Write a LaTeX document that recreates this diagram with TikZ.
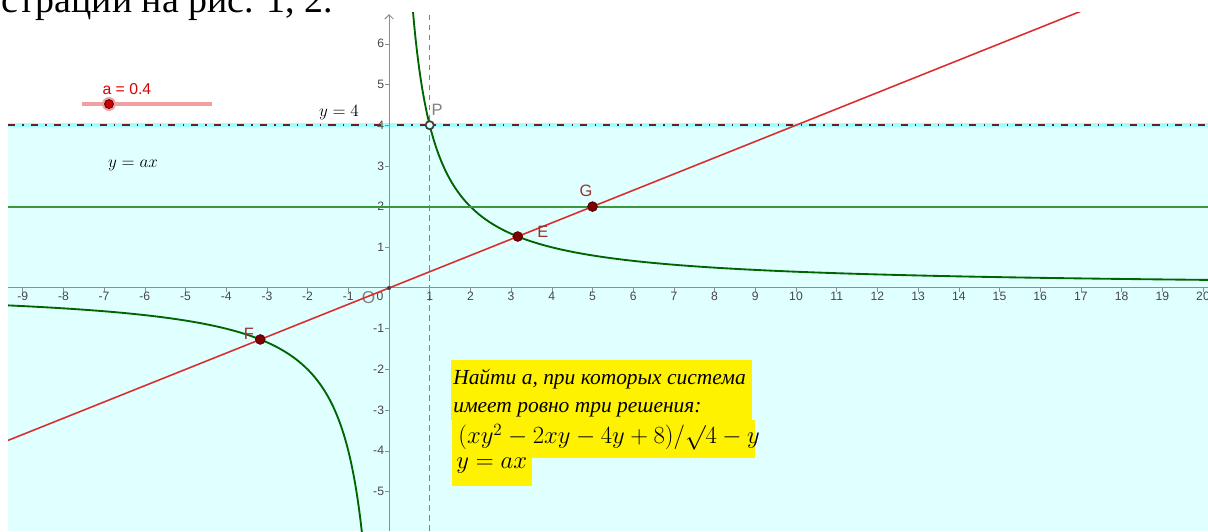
\documentclass[tikz,border=0pt]{standalone}
\usepackage{fontspec}
\setmainfont{Liberation Serif}
\setsansfont{Liberation Sans}
\usepackage{amsmath}
\usetikzlibrary{arrows.meta}

\definecolor{ggbcyan}{RGB}{224,255,255}
\definecolor{ggbband}{RGB}{160,255,255}
\definecolor{ggbdash}{RGB}{110,30,30}
\definecolor{ggbgreen}{RGB}{0,100,0}
\definecolor{ggbline}{RGB}{60,150,60}
\definecolor{ggbred}{RGB}{220,40,40}
\definecolor{ggbdot}{RGB}{128,0,0}
\definecolor{ggblabel}{RGB}{153,51,51}
\definecolor{ggbslider}{RGB}{240,160,160}
\definecolor{ggbaxis}{RGB}{135,145,145}
\definecolor{ggbtick}{RGB}{70,70,70}

\tikzset{
  ptdot/.style={circle,fill=ggbdot,draw=ggbdot!60!black,line width=0.5pt,inner sep=0pt,minimum size=0.24cm},
  ptlabel/.style={font=\sffamily\fontsize{11.5}{12}\selectfont,text=ggblabel,inner sep=0pt},
  ticklabel/.style={font=\sffamily\fontsize{8.5}{9}\selectfont,text=ggbtick,inner sep=1pt},
  yellowtext/.style={font=\fontsize{15}{18}\selectfont\itshape,anchor=base west,inner sep=0pt},
  yellowmath/.style={font=\fontsize{16.5}{18}\selectfont,anchor=base west,inner sep=0pt}
}

\begin{document}
\begin{tikzpicture}
\useasboundingbox (-9.558,-5.971) rectangle (20.123,7.076);
% page text above the screenshot
\node[anchor=base west,inner sep=0pt,font=\fontsize{26.5}{30}\selectfont] (cap) at (-9.52,6.77) {страций на рис. 1, 2.};

\begin{scope}
\clip (-9.36,-5.971) rectangle (20.123,6.76);
% region y<4
\fill[ggbcyan] (-9.36,-5.971) rectangle (20.123,4);
\draw[ggbband,line width=2.8pt] (-9.36,4) -- (20.123,4);
\draw[ggbdash,line width=1.3pt,dash pattern=on 5pt off 5pt on 1pt off 5pt] (-9.36,4) -- (20.123,4);
\draw[gray,thin,dash pattern=on 4pt off 3pt] (1,-5.971) -- (1,6.76);
% axes
\draw[ggbaxis,line width=0.7pt] (-9.36,0) -- (20.123,0);
\draw[ggbaxis,line width=0.7pt,-{Straight Barb[length=3pt,width=6pt]}] (0,-5.971) -- (0,6.73);
\foreach \x in {-9,...,-1,1,2,...,20} {
  \draw[ggbaxis] (\x,0) -- (\x,-0.09);
  \node[ticklabel,anchor=north] (xl\x) at (\x,-0.06) {\x};
}
\foreach \y in {-5,...,-1,1,2,...,6} {
  \draw[ggbaxis] (0,\y) -- (-0.09,\y);
  \node[ticklabel,anchor=east] (yl\y) at (-0.08,\y) {\y};
}
\node[ticklabel,anchor=north] (xl0) at (-0.22,-0.06) {0};
\node[font=\sffamily\fontsize{12}{12}\selectfont,text=gray,inner sep=0pt] (Olbl) at (-0.5,-0.23) {O};
% y = 4/x
\draw[ggbgreen,line width=1.3pt,smooth] plot[domain=0.55:2,samples=120] (\x,{4/\x});
\draw[ggbgreen,line width=1.3pt,smooth] plot[domain=2:20.2,samples=100] (\x,{4/\x});
\draw[ggbgreen,line width=1.3pt,smooth] plot[domain=-9.6:-2,samples=100] (\x,{4/\x});
\draw[ggbgreen,line width=1.3pt,smooth] plot[domain=-2:-0.65,samples=120] (\x,{4/\x});
% y = 2 and y = ax
\draw[ggbline,line width=1.4pt] (-9.36,2) -- (20.123,2);
\draw[ggbred,line width=1.05pt] (-9.6,-3.84) -- (18,7.2);
\end{scope}

% labels of lines
\node[font=\fontsize{12.5}{13}\selectfont,inner sep=0pt] (ylab4) at (-1.23,4.30) {$y = 4$};
\node[font=\fontsize{12.5}{13}\selectfont,inner sep=0pt] (ylabax) at (-6.29,3.02) {$y = ax$};

% slider for a
\draw[ggbslider,line width=2.2pt] (-7.54,4.52) -- (-4.35,4.52);
\fill[ggbslider] (-6.88,4.52) circle (0.17);
\node[ptdot,fill=red!80!black,minimum size=0.22cm] (knob) at (-6.88,4.52) {};
\node[font=\sffamily\fontsize{11}{12}\selectfont,text=red!85!black,inner sep=0pt] (alabel) at (-6.44,4.89) {a = 0.4};

% points
\node[circle,fill=darkgray,inner sep=0pt,minimum size=0.1cm] (O) at (0,0) {};
\node[circle,draw=black!75,fill=ggbcyan,line width=1.2pt,inner sep=0pt,minimum size=0.2cm] (P) at (1,4) {};
\node[text=gray,font=\sffamily\fontsize{11.5}{12}\selectfont,inner sep=0pt] (Plbl) at (1.18,4.37) {P};
\node[ptdot] (E) at (3.1623,1.2649) {};
\node[ptdot] (F) at (-3.1623,-1.2649) {};
\node[ptdot] (G) at (5,2) {};
\node[ptlabel] (Elbl) at (3.78,1.38) {E};
\node[ptlabel] (Glbl) at (4.84,2.38) {G};
\node[ptlabel] (Flbl) at (-3.44,-1.13) {F};

% task text
\fill[yellow] (1.523,-1.769) rectangle (8.919,-3.243);
\fill[yellow] (1.548,-3.243) rectangle (8.993,-4.177);
\fill[yellow] (1.548,-4.177) rectangle (3.514,-4.865);
\node[yellowtext] (task1) at (1.572,-2.383) {Найти а, при которых система};
\node[yellowtext] (task2) at (1.572,-3.047) {имеет ровно три решения:};
\node[yellowmath] (task3) at (1.695,-3.833) {$(xy^2-2xy-4y+8)/\surd 4-y$};
\node[yellowmath] (task4) at (1.65,-4.423) {$y=ax$};
\end{tikzpicture}
\end{document}
